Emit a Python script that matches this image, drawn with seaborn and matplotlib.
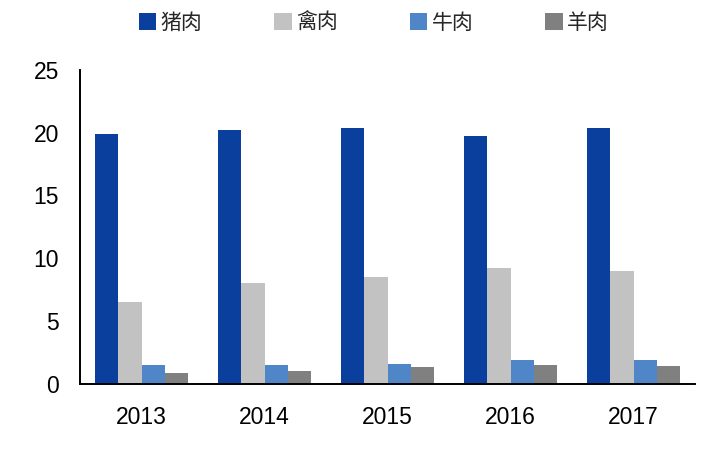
import pandas as pd
import matplotlib
matplotlib.use("Agg")
import matplotlib.pyplot as plt
import seaborn as sns
from matplotlib.ticker import FixedLocator

# values
years = ["2013", "2014", "2015", "2016", "2017"]
meat_types = ["猪肉", "禽肉", "牛肉", "羊肉"]
pork = [19.9, 20.2, 20.4, 19.7, 20.4]
poultry = [6.5, 8.0, 8.5, 9.2, 9.0]
beef = [1.5, 1.5, 1.6, 1.9, 1.9]
mutton = [0.9, 1.0, 1.3, 1.5, 1.4]
colors = ["#0a3f9d", "#c2c2c2", "#4f86c8", "#808080"]
y_ticks = [0, 5, 10, 15, 20, 25]

series = dict(zip(meat_types, [pork, poultry, beef, mutton]))
df = pd.DataFrame(
    [(y, m, series[m][i]) for m in meat_types for i, y in enumerate(years)],
    columns=["year", "meat", "value"],
)

sns.set_style("white")
plt.rcParams["font.family"] = ["Liberation Sans", "Noto Sans CJK SC", "DejaVu Sans"]

fig, ax = plt.subplots(figsize=(7.24, 4.51), dpi=100)
fig.subplots_adjust(left=0.1105, right=0.96, top=0.845, bottom=0.149)

sns.barplot(
    data=df, x="year", y="value", hue="meat", order=years, hue_order=meat_types,
    palette=colors, width=0.76, gap=0, saturation=1, linewidth=0, ax=ax,
)

ax.set_xlim(-0.5, len(years) - 0.5)
ax.set_ylim(0, 25)
ax.set_yticks(y_ticks)
ax.set_xlabel("")
ax.set_ylabel("")

for side in ["top", "right"]:
    ax.spines[side].set_visible(False)
for side in ["left", "bottom"]:
    ax.spines[side].set_color("black")
    ax.spines[side].set_linewidth(1.4)

ax.tick_params(axis="y", direction="in", length=7, width=1.2, pad=15,
               labelsize=16.5, colors="black")
ax.tick_params(axis="x", which="major", length=0, pad=16, labelsize=16.5,
               labelcolor="black")
ax.xaxis.set_minor_locator(FixedLocator([i + 0.5 for i in range(len(years))]))
ax.tick_params(axis="x", which="minor", direction="in", length=7, width=1.2,
               color="black")

handles, labels = ax.get_legend_handles_labels()
ax.get_legend().remove()
fig.legend(
    handles, labels, loc="center", bbox_to_anchor=(0.516, 0.949), ncol=4,
    frameon=False, handlelength=0.85, handleheight=0.85, handletextpad=0.2,
    columnspacing=3.45, prop={"family": "Noto Sans CJK SC", "size": 15},
)

fig.savefig("out.png", dpi=100)
